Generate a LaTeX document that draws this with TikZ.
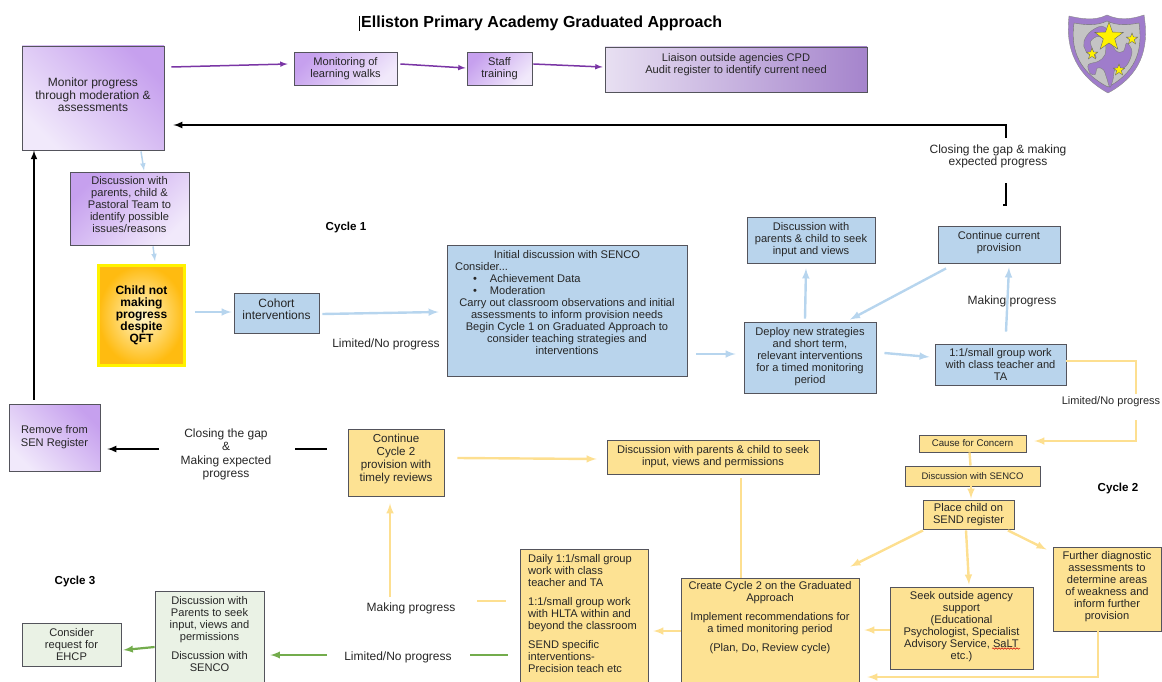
\documentclass[tikz,border=0pt]{standalone}
\usepackage{fontspec}
\setmainfont{Liberation Sans}
\usetikzlibrary{decorations.pathmorphing}
\definecolor{boxgray}{rgb}{0.33,0.33,0.36}
\definecolor{lilacdark}{HTML}{C6A0EE}
\definecolor{lilaclight}{HTML}{F1E9FB}
\definecolor{liaisonleft}{HTML}{E8E0F2}
\definecolor{liaisonright}{HTML}{A584CC}
\definecolor{boxblue}{HTML}{B9D4EC}
\definecolor{arrowblue}{HTML}{B7D5EE}
\definecolor{boxyellow}{HTML}{FDE293}
\definecolor{arrowyellow}{HTML}{FDDF90}
\definecolor{boxgreen}{HTML}{EAF2E5}
\definecolor{arrowgreen}{HTML}{73AC4C}
\definecolor{arrowpurple}{HTML}{7A35A5}
\definecolor{crestpurple}{HTML}{9F7CCB}
\definecolor{crestgray}{HTML}{C4C4C4}
\definecolor{childinner}{HTML}{FFF6CC}
\definecolor{childouter}{HTML}{FFBB10}
\newcommand{\lift}[1]{\\[\dimexpr#1pt-12pt\relax]\mbox{}}
\tikzset{
  lbl/.style={font=\fontsize{12}{12.2}\selectfont, align=center, text=black!85, inner sep=0pt},
  plainbox/.style={lbl, font=\fontsize{11.1}{12}\selectfont, draw=boxgray, line width=0.9pt},
  lilacbox/.style={plainbox, shade, left color=lilacdark, right color=lilaclight, shading angle=#1},
  bluebox/.style={plainbox, fill=boxblue},
  yellowbox/.style={plainbox, fill=boxyellow},
  greenbox/.style={plainbox, fill=boxgreen},
  cyclelbl/.style={font=\fontsize{11.6}{12}\selectfont\bfseries, inner sep=0pt},
  purplearrow/.style={draw=arrowpurple, line width=1.5pt, -latex},
  bluearrow/.style={draw=arrowblue, line width=2.4pt, -latex},
  yellowarrow/.style={draw=arrowyellow, line width=2.4pt, -latex},
  yellowline/.style={draw=arrowyellow, line width=2.4pt},
  greenarrow/.style={draw=arrowgreen, line width=2.2pt, -latex},
  greenline/.style={draw=arrowgreen, line width=2.2pt},
  blackarrow/.style={draw=black, line width=2pt, -latex},
  blackline/.style={draw=black, line width=2pt}
}
\begin{document}
\begin{tikzpicture}[x=1pt,y=-1pt]
	\useasboundingbox (0,0) rectangle (1162,682);
	\clip (0,0) rectangle (1162,682);
	%Title
	\node[font=\fontsize{16}{18}\selectfont\bfseries, inner sep=0pt, anchor=west] (title) at (361,23) {Elliston Primary Academy Graduated Approach};
	\draw[line width=0.9pt] (359.5,16) -- (359.5,31);

	%Crest
	\draw[fill=crestpurple, draw=black!45, line width=0.4pt] (1069,16) .. controls (1082,19) and (1095,21) .. (1107,15) .. controls (1120,21) and (1132,19) .. (1144,15) .. controls (1148,40) and (1147,72) .. (1108,93) .. controls (1070,72) and (1066,40) .. (1069,16) -- cycle;
	\draw[fill=crestgray, draw=black!55, line width=0.4pt] (1074,23) .. controls (1085,25) and (1097,26) .. (1107,21) .. controls (1117,26) and (1129,25) .. (1139,23) .. controls (1142,45) and (1140,70) .. (1108,87) .. controls (1075,70) and (1071,45) .. (1074,23) -- cycle;
	\begin{scope}[shift={(1060,8)}, x=0.3333pt, y=-0.3333pt]
		\draw[fill=crestpurple, draw=black!50, line width=0.4pt] plot[smooth cycle, tension=0.6] coordinates {(135,58) (95,68) (72,100) (78,130) (108,150) (98,125) (92,100) (115,85) (135,100) (135,140) (115,160) (85,170) (90,195) (105,200) (112,180) (130,185) (140,210) (150,238) (160,210) (165,185) (190,180) (205,165) (216,130) (200,105) (190,130) (165,125)};
	\end{scope}
	\foreach \sx/\sy/\sr/\si in {1109/37/15/6, 1132/39/6/2.5, 1092/54/6/2.5, 1119/70/6/2.5}
		\draw[fill=yellow, draw=black!60, line width=0.4pt] (\sx,\sy-\sr) -- (\sx+0.588*\si,\sy-0.809*\si) -- (\sx+0.951*\sr,\sy-0.309*\sr) -- (\sx+0.951*\si,\sy+0.309*\si) -- (\sx+0.588*\sr,\sy+0.809*\sr) -- (\sx,\sy+\si) -- (\sx-0.588*\sr,\sy+0.809*\sr) -- (\sx-0.951*\si,\sy+0.309*\si) -- (\sx-0.951*\sr,\sy-0.309*\sr) -- (\sx-0.588*\si,\sy-0.809*\si) -- cycle;

	%Purple boxes
	\node[lilacbox=-45, font=\fontsize{12}{12.5}\selectfont, minimum width=142pt, minimum height=104pt] (monitor) at (93,98) {Monitor progress\\through moderation \&\\assessments\lift{6}};
	\node[lilacbox=45, minimum width=103pt, minimum height=33pt] (walks) at (345.5,69) {Monitoring of\\learning walks\lift{4}};
	\node[lilacbox=45, minimum width=65pt, minimum height=33pt] (training) at (499.5,69) {Staff\\training\lift{4}};
	\node[plainbox, shade, left color=liaisonleft, right color=liaisonright, minimum width=262pt, minimum height=45pt] (liaison) at (736,69.5) {Liaison outside agencies CPD\\Audit register to identify current need\lift{13}};
	\node[lilacbox=45, minimum width=119pt, minimum height=73pt] (parents) at (129.5,208.5) {Discussion with\\parents, child \&\\Pastoral Team to\\identify possible\\issues/reasons\lift{8}};
	\node[lilacbox=-45, font=\fontsize{11.1}{13}\selectfont, minimum width=91pt, minimum height=67pt] (remove) at (54.5,437.5) {Remove from\\SEN Register};

	%Start box
	\node[lbl, draw=yellow, line width=2.8pt, inner color=childinner, outer color=childouter, minimum width=86pt, minimum height=100pt, font=\fontsize{12}{12.2}\selectfont\bfseries, text=black] (child) at (141.5,315.5) {\mbox{}\\[-4pt]Child not\\making\\progress\\despite\\QFT};

	%Cycle 1
	\node[bluebox, font=\fontsize{12}{12.5}\selectfont, minimum width=85pt, minimum height=40pt] (cohort) at (276.5,313) {Cohort\\interventions\lift{7}};
	\node[bluebox, minimum width=240pt, minimum height=131pt] (initial) at (567,310.5) {Initial discussion with SENCO\\
		\makebox[224pt][l]{Consider...}\\
		\makebox[224pt][l]{\hspace{18pt}\textbullet\hspace{13pt}Achievement Data}\\
		\makebox[224pt][l]{\hspace{18pt}\textbullet\hspace{13pt}Moderation}\\
		Carry out classroom observations and initial\\assessments to inform provision needs\\Begin Cycle 1 on Graduated Approach to\\consider teaching strategies and\\interventions\lift{17}};
	\node[bluebox, minimum width=128pt, minimum height=46pt] (seekviews) at (811,240) {Discussion with\\parents \& child to seek\\input and views\lift{4}};
	\node[bluebox, minimum width=122pt, minimum height=37pt] (current) at (999,244.5) {Continue current\\provision\lift{7}};
	\node[bluebox, minimum width=132pt, minimum height=71pt] (deploy) at (810,357.5) {Deploy new strategies\\and short term,\\relevant interventions\\for a timed monitoring\\period\lift{5}};
	\node[bluebox, minimum width=131pt, minimum height=41pt] (groupone) at (1000.5,364.5) {1:1/small group work\\with class teacher and\\TA};

	%Cycle 2
	\node[yellowbox, font=\fontsize{11.6}{13}\selectfont, minimum width=96pt, minimum height=67pt] (cycletwo) at (396,462.5) {Continue\\Cycle 2\\provision with\\timely reviews\lift{9}};
	\node[yellowbox, minimum width=212pt, minimum height=34pt] (permissions) at (713,457) {Discussion with parents \& child to seek\\input, views and permissions\lift{4}};
	\node[yellowbox, minimum width=107pt, minimum height=17pt, font=\fontsize{9.7}{11}\selectfont] (cause) at (972.5,443.5) {Cause for Concern};
	\node[yellowbox, minimum width=135pt, minimum height=20pt, font=\fontsize{9.5}{11}\selectfont] (senco) at (972.5,476) {Discussion with SENCO};
	\node[yellowbox, minimum width=91pt, minimum height=29pt] (place) at (968.5,514.5) {Place child on\\SEND register};
	\node[yellowbox, minimum width=108pt, minimum height=84pt] (further) at (1107,589) {Further diagnostic\\assessments to\\determine areas\\of weakness and\\inform further\\provision\lift{8}};
	\node[yellowbox, minimum width=143pt, minimum height=82pt] (agency) at (961.5,628) {Seek outside agency\\support\\(Educational\\Psychologist, Specialist\\Advisory Service, SaLT\\etc.)\lift{6}};
	\node[yellowbox, minimum width=178pt, minimum height=114pt] (create) at (770,635) {};
	\node[lbl, font=\fontsize{11.1}{12}\selectfont, anchor=north] (createtxt) at (770,581.5) {Create Cycle 2 on the Graduated\\Approach\\[7pt]Implement recommendations for\\a timed monitoring period\\[7pt](Plan, Do, Review cycle)};
	\node[yellowbox, minimum width=128pt, minimum height=143pt] (daily) at (584,620.5) {};
	\node[lbl, font=\fontsize{11.1}{12}\selectfont, anchor=north west, align=left] (dailytxt) at (528,554) {Daily 1:1/small group\\work with class\\teacher and TA\\[7pt]1:1/small group work\\with HLTA within and\\beyond the classroom\\[7pt]SEND specific\\interventions-\\Precision teach etc};
	\draw[red!80!black, line width=0.5pt, decorate, decoration={snake, amplitude=0.7pt, segment length=3pt}] (992,648.5) -- (1020,648.5);

	%Cycle 3
	\node[greenbox, minimum width=109pt, minimum height=100pt] (parentsthree) at (209.5,641) {};
	\node[lbl, font=\fontsize{11.1}{12}\selectfont, anchor=north] (parentstxt) at (209.5,596) {Discussion with\\Parents to seek\\input, views and\\permissions\\[7pt]Discussion with\\SENCO};
	\node[greenbox, minimum width=99pt, minimum height=43pt] (ehcp) at (71.5,644.5) {Consider\\request for\\EHCP};

	%Labels
	\node[lbl] (gapone) at (998,156) {Closing the gap \& making\\expected progress};
	\node[lbl, font=\fontsize{12}{13.3}\selectfont] (gaptwo) at (226,454.5) {Closing the gap\\\&\\Making expected\\progress};
	\node[lbl] (limitone) at (386,344) {Limited/No progress};
	\node[lbl, font=\fontsize{11}{12}\selectfont] (limittwo) at (1111,402) {Limited/No progress};
	\node[lbl] (limitthree) at (398,657) {Limited/No progress};
	\node[lbl] (makingone) at (1012,301) {Making progress};
	\node[lbl] (makingtwo) at (411,608) {Making progress};
	\node[cyclelbl] (cyclea) at (346,228) {Cycle 1};
	\node[cyclelbl] (cycleb) at (1118,488) {Cycle 2};
	\node[cyclelbl] (cyclec) at (75,581) {Cycle 3};

	%Free ends
	\coordinate (gaptop) at (1006,138);
	\coordinate (gapbot) at (1006,183);
	\coordinate (gapleft) at (159,449);
	\coordinate (gapright) at (295,449);
	\coordinate (limitup) at (1136,394);
	\coordinate (limitdown) at (1136,420);
	\coordinate (makingup) at (390,597);
	\coordinate (makingend) at (477,601);
	\coordinate (limitend) at (470,655);
	\coordinate (limitgreen) at (327,655);

	%Purple arrows
	\draw[purplearrow] ([shift={(7,-31)}]monitor.east) -- ([shift={(-6,-5)}]walks.west);
	\draw[purplearrow] ([shift={(3,-5)}]walks.east) -- ([shift={(-1,-1)}]training.west);
	\draw[purplearrow] ([shift={(1,-5)}]training.east) -- ([shift={(-2,-2.5)}]liaison.west);

	%Black arrows
	\draw[blackarrow] (gaptop) -- (1006,125) -- ([shift={(9,27)}]monitor.east);
	\draw[blackline] (gapbot) -- (1006,205) -- (1003,205);
	\draw[blackarrow] ([shift={(-20.5,-4)}]remove.north) -- ([shift={(-59,0)}]monitor.south);
	\draw[blackline] (gapright) -- ++(32,0);
	\draw[blackarrow] (gapleft) -- ([shift={(7,11.5)}]remove.east);

	%Blue arrows
	\draw[bluearrow, line width=1.5pt] ([shift={(48,1)}]monitor.south) -- ([shift={(14.5,-1)}]parents.north);
	\draw[bluearrow, line width=1.5pt] ([shift={(23.5,1)}]parents.south) -- ([shift={(13.5,-3)}]child.north);
	\draw[bluearrow] ([shift={(9,-3.5)}]child.east) -- ([shift={(-2,-1)}]cohort.west);
	\draw[bluearrow] ([shift={(3,1)}]cohort.east) -- ([shift={(-8,1.5)}]initial.west);
	\draw[bluearrow] ([shift={(9,43.5)}]initial.east) -- ([shift={(-8,-3.5)}]deploy.west);
	\draw[bluearrow] ([shift={(-5,-3)}]deploy.north) -- ([shift={(-5,5)}]seekviews.south);
	\draw[bluearrow] ([shift={(-53,5)}]current.south) -- ([shift={(40,-2)}]deploy.north);
	\draw[bluearrow] ([shift={(8,-4.5)}]deploy.east) -- ([shift={(-5,-7.5)}]groupone.west);
	\draw[bluearrow] ([shift={(5.5,-12)}]groupone.north) -- ([shift={(10,4)}]current.south);

	%Yellow arrows
	\draw[yellowline] ([shift={(0,-3.5)}]groupone.east) -- (1136,361) -- (limitup);
	\draw[yellowarrow] (limitdown) -- (1136,441) -- ([shift={(8,-2.5)}]cause.east);
	\draw[yellowline] ([shift={(-3,0)}]cause.south) -- ([shift={(-2,0)}]senco.north);
	\draw[yellowarrow] ([shift={(-1.5,0)}]senco.south) -- ([shift={(2.5,-1)}]place.north);
	\draw[yellowarrow] ([shift={(39.5,1)}]place.south) -- ([shift={(-6,3)}]further.north west);
	\draw[yellowarrow] ([shift={(-2.5,1)}]place.south) -- ([shift={(7.5,-2)}]agency.north);
	\draw[yellowarrow] ([shift={(-45.5,1)}]place.south) -- ([shift={(-9,-11)}]create.north east);
	\draw[yellowarrow] ([shift={(0,2)}]agency.west) -- ([shift={(5,-5)}]create.east);
	\draw[yellowarrow] ([shift={(-9,0)}]further.south) -- (1098,677) -- ([shift={(8,42)}]create.east);
	\draw[yellowline] ([shift={(-29,0)}]create.north) -- ([shift={(28,4)}]permissions.south);
	\draw[yellowarrow] ([shift={(13,-4.5)}]cycletwo.east) -- ([shift={(-10,2)}]permissions.west);
	\draw[yellowarrow] ([shift={(0,-4)}]create.west) -- ([shift={(5,10.5)}]daily.east);
	\draw[yellowline] ([shift={(-14,-19.5)}]daily.west) -- (makingend);
	\draw[yellowarrow] (makingup) -- ([shift={(-6,7)}]cycletwo.south);

	%Green arrows
	\draw[greenline] ([shift={(-12,34.5)}]daily.west) -- (limitend);
	\draw[greenarrow] (limitgreen) -- ([shift={(6,14)}]parentsthree.east);
	\draw[greenarrow] ([shift={(0,6)}]parentsthree.west) -- ([shift={(2,5.5)}]ehcp.east);
\end{tikzpicture}
\end{document}
